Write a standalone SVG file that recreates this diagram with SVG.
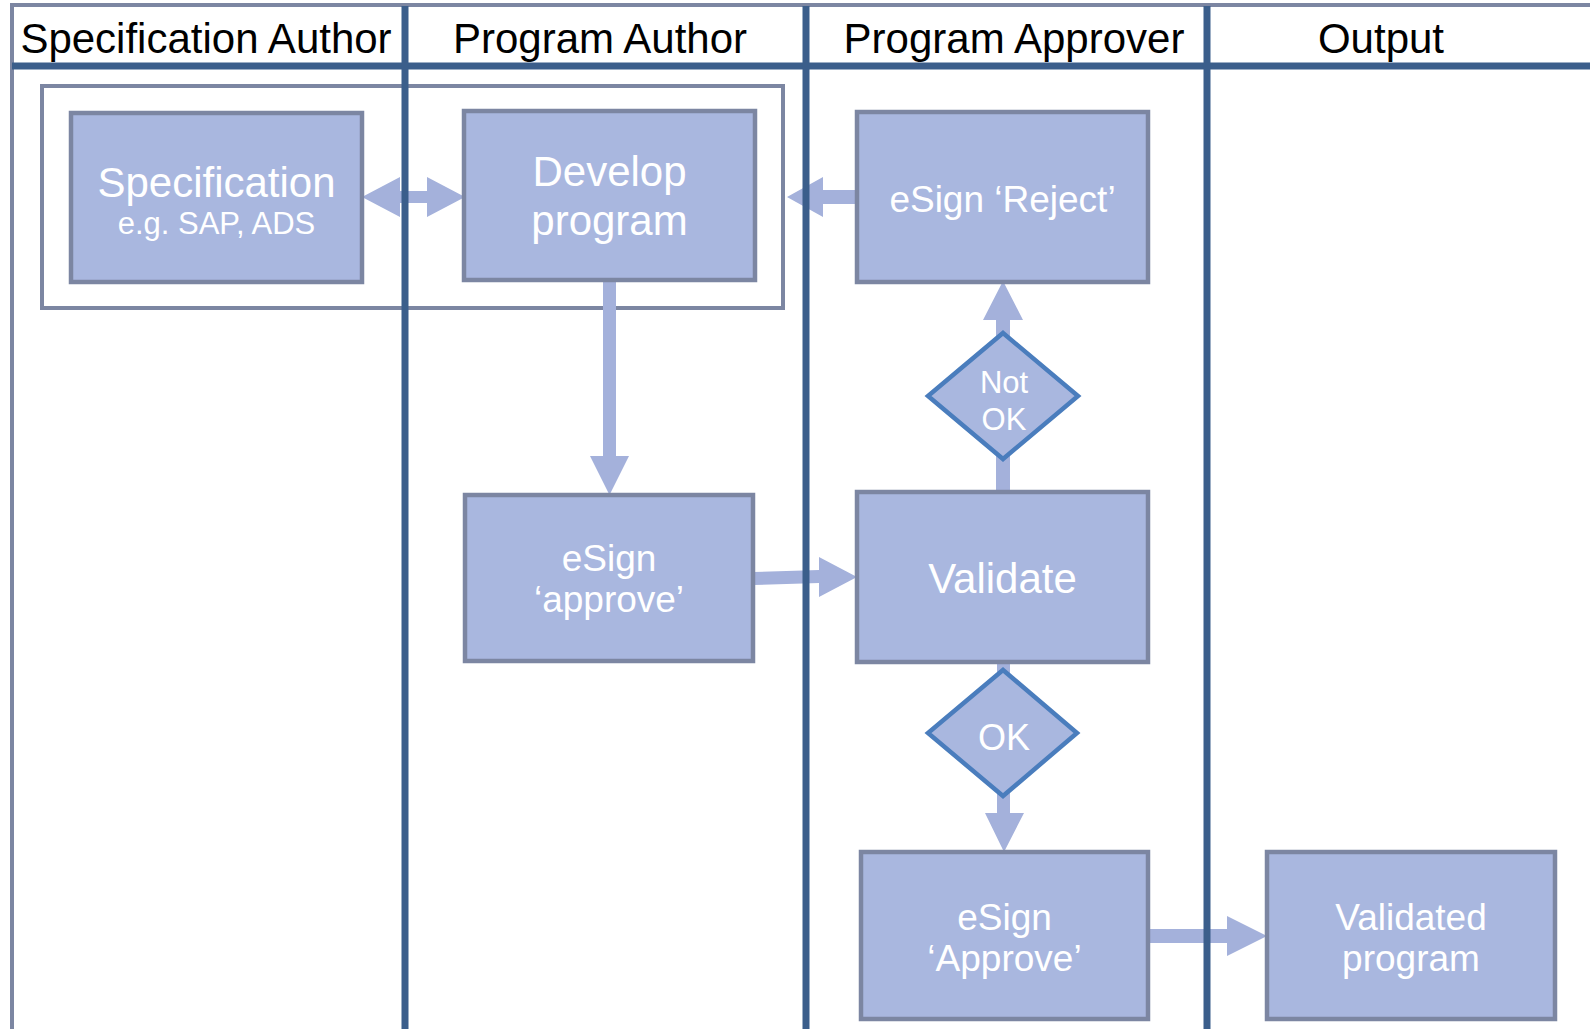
<svg xmlns="http://www.w3.org/2000/svg" width="1590" height="1029" viewBox="0 0 1590 1029">
<style>
.box{fill:#a9b7df;stroke:#7c86a2;stroke-width:4.5}
.dia{fill:#a9b7df;stroke:#4a7dbd;stroke-width:4.5;stroke-linejoin:miter}
.arr{fill:#a4b1db}
.div{stroke:#3b5e8b;stroke-width:7}
.gray{stroke:#7c86a2;stroke-width:4;fill:none}
.hd{font-family:"Liberation Sans",Arial,sans-serif;font-size:42px;fill:#000;text-anchor:middle}
.t{font-family:"Liberation Sans",Arial,sans-serif;fill:#fff;text-anchor:middle}
</style>
<rect width="1590" height="1029" fill="#fff"/>
<g id="group-frame">
<rect x="42" y="86" width="741" height="222" class="gray"/>
</g>
<g id="connectors">
<polygon class="arr" points="362,197 400,177 400,191 427,191 427,177 465,197 427,217 427,203 400,203 400,217"/>
<polygon class="arr" points="859,190 823,190 823,177 787,197 823,217 823,204 859,204"/>
<polygon class="arr" points="603,280 616,280 616,456 629,456 609.5,495 590,456 603,456"/>
<polygon class="arr" points="753,572 819,570 819,557 857,577 819,597 819,583 753,585"/>
<polygon class="arr" points="996,492 996,320 983,320 1003,281 1023,320 1010,320 1010,492"/>
<polygon class="arr" points="997,662 997,813 985,813 1004,852 1024,813 1010,813 1010,662"/>
<polygon class="arr" points="1147,929 1227,929 1227,916 1267,936 1227,956 1227,943 1147,943"/>
</g>
<g id="lanes">
<line x1="12" y1="5" x2="1590" y2="5" class="gray"/>
<line x1="12" y1="3" x2="12" y2="1029" class="gray"/>
<line x1="12" y1="66" x2="1590" y2="66" class="div"/>
<line x1="405" y1="6" x2="405" y2="1029" class="div"/>
<line x1="806" y1="6" x2="806" y2="1029" class="div"/>
<line x1="1207" y1="6" x2="1207" y2="1029" class="div"/>
<text class="hd" x="206" y="53">Specification Author</text>
<text class="hd" x="600" y="53">Program Author</text>
<text class="hd" x="1014" y="53">Program Approver</text>
<text class="hd" x="1381" y="53">Output</text>
</g>
<g id="specification">
<rect class="box" x="71" y="113" width="291" height="169"/>
<text class="t" x="216.5" y="197" font-size="42">Specification</text>
<text class="t" x="216.5" y="234" font-size="31">e.g. SAP, ADS</text>
</g>
<g id="develop">
<rect class="box" x="464" y="111" width="291" height="169"/>
<text class="t" x="609.5" y="186" font-size="42">Develop</text>
<text class="t" x="609.5" y="235" font-size="42">program</text>
</g>
<g id="reject">
<rect class="box" x="857" y="112" width="291" height="170"/>
<text class="t" x="1002.5" y="212" font-size="37">eSign ‘Reject’</text>
</g>
<g id="esign-approve-author">
<rect class="box" x="465" y="495" width="288" height="166"/>
<text class="t" x="609" y="571" font-size="37">eSign</text>
<text class="t" x="609" y="612" font-size="37">‘approve’</text>
</g>
<g id="validate">
<rect class="box" x="857" y="492" width="291" height="170"/>
<text class="t" x="1002.5" y="593" font-size="42">Validate</text>
</g>
<g id="not-ok">
<polygon class="dia" points="1003,333 1078,396 1003,459 928,396"/>
<text class="t" x="1004" y="393" font-size="31">Not</text>
<text class="t" x="1004" y="430" font-size="31">OK</text>
</g>
<g id="ok">
<polygon class="dia" points="1003,670 1077,733 1003,796 928,733"/>
<text class="t" x="1004" y="750" font-size="36">OK</text>
</g>
<g id="esign-approve-approver">
<rect class="box" x="861" y="852" width="287" height="167"/>
<text class="t" x="1004.5" y="930" font-size="37">eSign</text>
<text class="t" x="1004.5" y="971" font-size="37">‘Approve’</text>
</g>
<g id="validated-program">
<rect class="box" x="1267" y="852" width="288" height="167"/>
<text class="t" x="1411" y="930" font-size="37">Validated</text>
<text class="t" x="1411" y="971" font-size="37">program</text>
</g>
</svg>
